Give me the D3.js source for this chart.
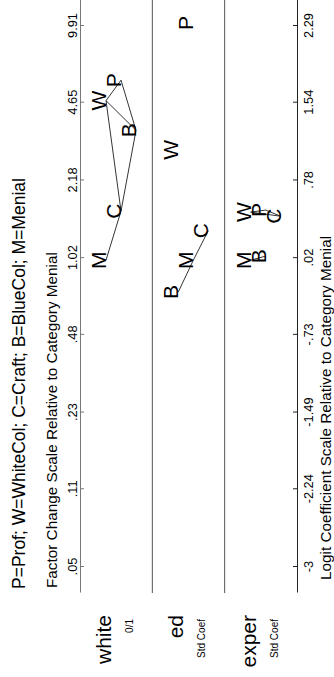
<!DOCTYPE html>
<html>
<head>
<meta charset="utf-8">
<script src="https://cdn.jsdelivr.net/npm/d3@7"></script>
<style>
  body { margin: 0; background: #fff; }
  svg text { font-family: "Liberation Sans", Arial, sans-serif; fill: #000; }
</style>
</head>
<body>
<svg id="chart"></svg>
<script>
// Logit coefficients relative to Menial (categories in legend order)
const categories = ["P", "W", "C", "B", "M"];
const variables = ["white", "ed", "exper"];
const varUnits = ["0/1", "Std Coef", "Std Coef"];
const whiteCoef = [1.76, 1.56, 0.48, 1.27, 0];
const edCoef = [2.32, 1.08, 0.29, -0.31, 0];
const experCoef = [0.49, 0.47, 0.43, 0.04, 0];
// pairs joined by a line (not significantly different)
const whiteLinks = [["M", "C"], ["C", "W"], ["C", "B"], ["W", "B"], ["W", "P"], ["P", "B"]];
const edLinks = [["B", "M"], ["M", "C"]];
const experLinks = [["M", "B"], ["W", "P"], ["W", "C"], ["P", "C"]];
const logitTicks = [-3, -2.24, -1.49, -.73, .02, .78, 1.54, 2.29];
const logitLabels = ["-3", "-2.24", "-1.49", "-.73", ".02", ".78", "1.54", "2.29"];
const factorLabels = [".05", ".11", ".23", ".48", "1.02", "2.18", "4.65", "9.91"];
const titleText = "P=Prof; W=WhiteCol; C=Craft; B=BlueCol; M=Menial";
const topTitle = "Factor Change Scale Relative to Category Menial";
const bottomTitle = "Logit Coefficient Scale Relative to Category Menial";

const coefs = [whiteCoef, edCoef, experCoef];
const links = [whiteLinks, edLinks, experLinks];

// chart is drawn sideways: frame is 677 wide, 334 tall, then turned -90deg
const W = 677, H = 334;
const svg = d3.select("#chart").attr("width", H).attr("height", W);
const g = svg.append("g").attr("transform", `translate(0,${W}) rotate(-90)`);

const x = d3.scaleLinear().domain(d3.extent(logitTicks)).range([110, 651]);
const xFull = x.copy().domain([x.invert(84), x.invert(677)]).range([84, 677]);

const topY = 80, bottomY = 297;
const band = d3.scaleBand().domain(variables).range([topY, bottomY]);
// stagger letters by rank: three rows inside each band
const level = d3.scaleLinear().domain([0, 2]).range([26, 56]);

// top axis: factor change
const topAxis = d3.axisTop(xFull)
  .tickValues(logitTicks)
  .tickFormat((d, i) => factorLabels[i])
  .tickSizeInner(-4).tickSizeOuter(0).tickPadding(3.5);
const ta = g.append("g").attr("transform", `translate(0,${topY})`).call(topAxis);
ta.select(".domain").attr("stroke", "#777");
ta.selectAll(".tick line").attr("stroke", "#777");
ta.selectAll("text").attr("font-size", 12.8).attr("font-family", "Liberation Sans, Arial, sans-serif");

// bottom axis: logit coefficients
const bottomAxis = d3.axisBottom(xFull)
  .tickValues(logitTicks)
  .tickFormat((d, i) => logitLabels[i])
  .tickSizeInner(-4).tickSizeOuter(0).tickPadding(7);
const ba = g.append("g").attr("transform", `translate(0,${bottomY})`).call(bottomAxis);
ba.select(".domain").attr("stroke", "#222");
ba.selectAll(".tick line").attr("stroke", "#222");
ba.selectAll("text").attr("font-size", 12.8).attr("font-family", "Liberation Sans, Arial, sans-serif");

// dividers between variables
g.selectAll(".divider")
  .data(variables.slice(1))
  .join("line")
  .attr("class", "divider")
  .attr("x1", xFull.range()[0]).attr("x2", xFull.range()[1])
  .attr("y1", d => band(d)).attr("y2", d => band(d))
  .attr("stroke", "#555").attr("stroke-width", 1);

// titles
g.append("text").attr("x", 88).attr("y", 25).attr("font-size", 17.5).text(titleText);
g.append("text").attr("x", 89).attr("y", 56.5).attr("font-size", 15.3).text(topTitle);
g.append("text").attr("x", 97).attr("y", 331).attr("font-size", 15.3).text(bottomTitle);

// variable labels
variables.forEach((v, i) => {
  const y0 = band(v);
  g.append("text").attr("x", 62).attr("y", y0 + 31)
    .attr("text-anchor", "end").attr("font-size", 21).text(v);
  g.append("text").attr("x", 58).attr("y", y0 + 53)
    .attr("text-anchor", "end").attr("font-size", 10).text(varUnits[i]);
});

// letters and connecting lines
variables.forEach((v, i) => {
  const vals = coefs[i];
  const order = d3.sort(d3.range(categories.length), j => vals[j]);
  const pts = {};
  order.forEach((j, r) => {
    pts[categories[j]] = { x: x(vals[j]), y: band(v) + level(r % 3) };
  });
  const panel = g.append("g");
  panel.selectAll("line")
    .data(links[i])
    .join("line")
    .attr("x1", d => pts[d[0]].x).attr("y1", d => pts[d[0]].y)
    .attr("x2", d => pts[d[1]].x).attr("y2", d => pts[d[1]].y)
    .attr("stroke", "#000").attr("stroke-width", 0.8);
  panel.selectAll("text")
    .data(categories)
    .join("text")
    .attr("x", d => pts[d].x).attr("y", d => pts[d].y)
    .attr("text-anchor", "middle").attr("font-size", 21)
    .text(d => d);
});
</script>
</body>
</html>
